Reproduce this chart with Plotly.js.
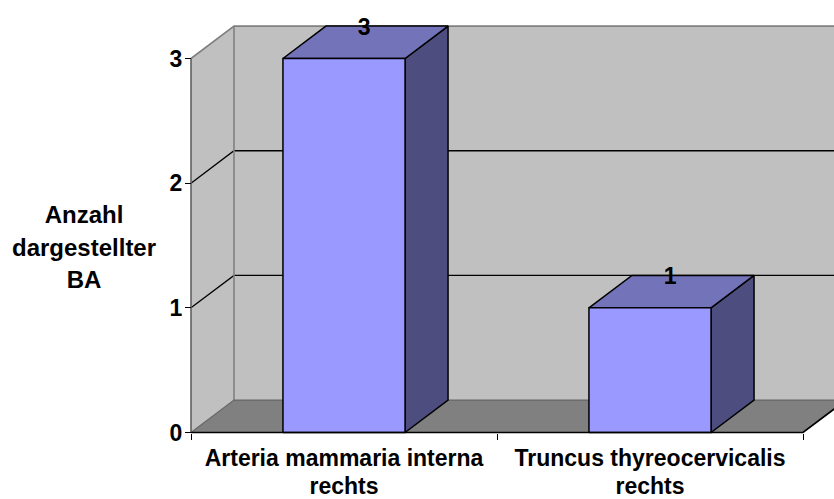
<!DOCTYPE html>
<html>
<head>
<meta charset="utf-8">
<script src="https://cdn.plot.ly/plotly-3.0.1.min.js"></script>
<style>html,body{margin:0;padding:0;background:#fff}</style>
</head>
<body>
<div id="chart" style="width:834px;height:499px"></div>
<script>
// Counts per vessel
const categories = ["Arteria mammaria interna", "Truncus thyreocervicalis"];
const categoryNotes = ["rechts", "rechts"];
const values = [3, 1];
const yTicks = [0, 1, 2, 3];
const yTitleLines = ["Anzahl", "dargestellter", "BA"];

// Pseudo-3D box settings, in axis units
const depthX = 0.1405;
const depthY = 0.26;
const barWidth = 0.399;
const xEnd = categories.length;
const yMax = yTicks[yTicks.length - 1];

const wallFill = "#C0C0C0", wallEdge = "#808080", floorFill = "#808080";
const barFront = "#9999FF", barTop = "#7373BA", barSide = "#4D4D80";
const fontFamily = "Liberation Sans, Arial, sans-serif";

function poly(xs, ys, fill, lineColor, lineWidth) {
  return {
    x: xs, y: ys, type: "scatter", mode: lineColor ? "lines" : "none",
    fill: fill ? "toself" : "none", fillcolor: fill || undefined,
    line: lineColor ? {color: lineColor, width: lineWidth, simplify: false} : undefined,
    hoverinfo: "skip", showlegend: false
  };
}

const traces = [];
// Walls and floor
traces.push(poly([depthX, xEnd + depthX + 1, xEnd + depthX + 1, depthX, depthX],
                 [depthY, depthY, yMax + depthY, yMax + depthY, depthY], wallFill));
traces.push(poly([0, depthX, depthX, 0, 0],
                 [0, depthY, yMax + depthY, yMax, 0], wallFill));
traces.push(poly([0, xEnd, xEnd + depthX, depthX, 0],
                 [0, 0, depthY, depthY, 0], floorFill));

// Gridlines across both walls
yTicks.slice(1, -1).forEach(t => {
  traces.push(poly([0, depthX, xEnd + depthX + 1], [t, t + depthY, t + depthY], null, "#000", 1.3));
});

// Wall outlines
traces.push(poly([0, depthX, xEnd + depthX + 1], [yMax, yMax + depthY, yMax + depthY], null, wallEdge, 1.6));
traces.push(poly([depthX, depthX], [depthY, yMax + depthY], null, wallEdge, 1.6));
traces.push(poly([0, depthX, xEnd + depthX + 1], [0, depthY, depthY], null, "#666", 1.2));
traces.push(poly([0, 0], [0, yMax], null, "#606060", 1.6));

// Boxes
values.forEach((v, i) => {
  const l = i + 0.5 - barWidth / 2, r = i + 0.5 + barWidth / 2;
  traces.push(poly([r, r + depthX, r + depthX, r, r], [0, depthY, v + depthY, v, 0], barSide, "#000", 1.5));
  traces.push(poly([l, r, r + depthX, l + depthX, l], [v, v, v + depthY, v + depthY, v], barTop, "#000", 1.5));
  traces.push(poly([l, r, r, l, l], [0, 0, v, v, 0], barFront, "#000", 1.5));
});

// Front floor edge
traces.push(poly([0, xEnd, xEnd + depthX], [0, 0, depthY], null, "#000", 1.7));

// Value labels sit at the rear edge of each box top
traces.push({
  x: values.map((v, i) => i + 0.5 + depthX / 2 - 0.004),
  y: values.map(v => v + depthY - 0.022),
  text: values.map(String),
  type: "scatter", mode: "text", textposition: "middle center",
  textfont: {family: fontFamily, size: 23, color: "#000", weight: 700},
  hoverinfo: "skip", showlegend: false, cliponaxis: false
});

// Carrier for the category boundary tick marks
traces.push({x: [0, xEnd], y: [0, 0], xaxis: "x2", type: "scatter", mode: "none", hoverinfo: "skip", showlegend: false});

const W = 834, H = 499;
const pad = {l: 185, r: 0, t: 10, b: 54};
const unitX = 306, unitY = 124.67;
const plotW = W - pad.l - pad.r, plotH = H - pad.t - pad.b;
const xRange = [-6 / unitX, (W - 191) / unitX];
const yRange = [-(plotH - (432.5 - pad.t)) / unitY, (432.5 - pad.t) / unitY];
const axisYPos = (pad.t + plotH - 432.5) / plotH;
const axisXPos = 6 / plotW;

// The outer size sets the line spacing; spans set the glyph size.
const labelSpan = (s, px) => `<span style="font-size:${px}px">${s}</span>`;

const layout = {
  width: W, height: H, margin: pad, paper_bgcolor: "#fff", plot_bgcolor: "rgba(0,0,0,0)",
  showlegend: false,
  font: {family: fontFamily, color: "#000"},
  xaxis: {
    range: xRange, anchor: "free", position: axisYPos, showgrid: false, zeroline: false,
    showline: false, tickmode: "array", tickvals: categories.map((c, i) => i + 0.5),
    ticktext: categories.map((c, i) => labelSpan(c, 23) + "<br>" + labelSpan(categoryNotes[i], 23)),
    ticks: "", tickangle: 0, ticklabelstandoff: 11,
    tickfont: {family: fontFamily, size: 21.5, color: "#000", weight: 700}
  },
  xaxis2: {
    range: xRange, overlaying: "x", anchor: "free", position: axisYPos, side: "bottom",
    showgrid: false, zeroline: false, showline: false, showticklabels: false,
    tickmode: "array", tickvals: [0, 1, 2], ticks: "outside", ticklen: 6, tickwidth: 1, tickcolor: "#000"
  },
  yaxis: {
    range: yRange, anchor: "free", position: axisXPos, showgrid: false, zeroline: false,
    showline: false, tickmode: "array", tickvals: yTicks, ticks: "outside", ticklen: 6,
    tickwidth: 1.2, tickcolor: "#000", ticklabelstandoff: -2,
    tickfont: {family: fontFamily, size: 23, color: "#000", weight: 700}
  },
  annotations: [{
    xref: "paper", yref: "paper",
    x: (84 - pad.l) / plotW, y: 1 - (246.5 - pad.t) / plotH,
    xanchor: "center", yanchor: "middle", align: "center", showarrow: false,
    text: yTitleLines.map(s => labelSpan(s, 24)).join("<br>"),
    font: {family: fontFamily, size: 25, color: "#000", weight: 700}
  }]
};

Plotly.newPlot("chart", traces, layout, {displayModeBar: false, staticPlot: true});
</script>
</body>
</html>
